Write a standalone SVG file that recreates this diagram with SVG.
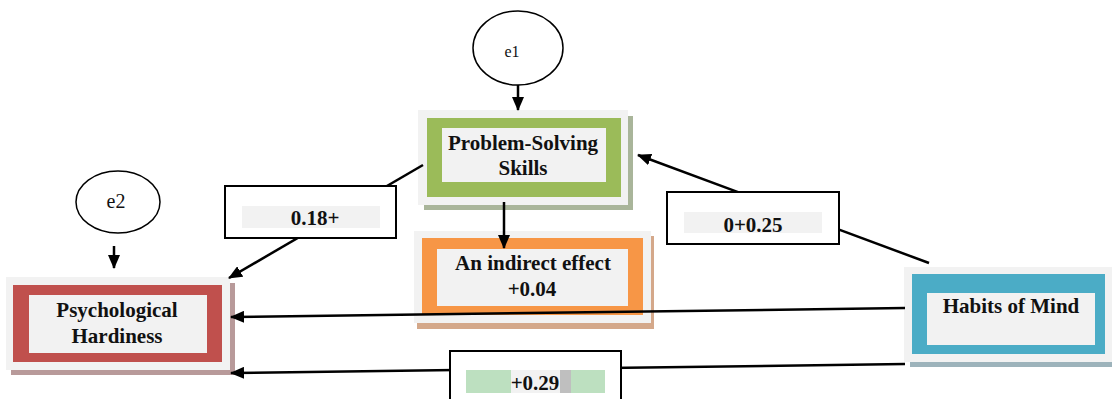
<svg xmlns="http://www.w3.org/2000/svg" width="1112" height="399" viewBox="0 0 1112 399">
<defs>
<style>
.t{font-family:"Liberation Serif","Times New Roman",serif;font-weight:bold;font-size:21px;fill:#111;text-anchor:middle}
.e{font-family:"Liberation Serif","Times New Roman",serif;fill:#111;text-anchor:middle}
.ln{stroke:#000;stroke-width:2.5;fill:none}
.lbl{fill:#fff;stroke:#000;stroke-width:2}
.inner{fill:#f2f2f2}
.outer{fill:#f2f2f2}
</style>
<marker id="ah" markerWidth="14" markerHeight="12" refX="13" refY="6" orient="auto" markerUnits="userSpaceOnUse">
<path d="M0,0 L14,6 L0,12 Z" fill="#000"/>
</marker>
</defs>
<rect width="1112" height="399" fill="#fff"/>

<g id="e1">
<ellipse cx="518" cy="48" rx="45" ry="37" fill="#fff" stroke="#000" stroke-width="1.5"/>
<text class="e" x="512" y="57" font-size="16">e1</text>
</g>
<g id="e2">
<ellipse cx="118" cy="202" rx="42" ry="31" fill="#fff" stroke="#000" stroke-width="1.5"/>
<text class="e" x="116" y="208" font-size="20">e2</text>
</g>

<g id="psych">
<rect x="11" y="283" width="224" height="92" fill="#b89a9a"/>
<rect x="6" y="277" width="224" height="93" class="outer"/>
<rect x="13" y="285" width="209" height="77" fill="#c0504d"/>
<rect x="29" y="295" width="178" height="58" class="inner"/>
<text class="t" x="117" y="317">Psychological</text>
<text class="t" x="117" y="343">Hardiness</text>
</g>

<g id="problem">
<rect x="424" y="116" width="209" height="94" fill="#a9b59a"/>
<rect x="418" y="110" width="210" height="95" class="outer"/>
<rect x="427" y="118" width="194" height="79" fill="#9bbb59"/>
<rect x="442" y="128" width="164" height="54" class="inner"/>
<text class="t" x="523" y="150">Problem-Solving</text>
<text class="t" x="523" y="175">Skills</text>
</g>

<g id="indirect">
<rect x="417" y="236" width="237" height="93" fill="#d4a88a"/>
<rect x="414" y="231" width="237" height="92" class="outer"/>
<rect x="422" y="238" width="221" height="77" fill="#f79646"/>
<rect x="437" y="249" width="191" height="57" class="inner"/>
<text class="t" x="533" y="270" font-size="17.5">An indirect effect</text>
<text class="t" x="532" y="296">+0.04</text>
</g>

<g id="habits">
<rect x="910" y="273" width="210" height="94" fill="#9db3bb"/>
<rect x="904" y="267" width="210" height="95" class="outer"/>
<rect x="912" y="274" width="193" height="80" fill="#4bacc6"/>
<rect x="927" y="293" width="168" height="52" class="inner"/>
<text class="t" x="1011" y="313">Habits of Mind</text>
</g>

<g id="connectors">
<line class="ln" x1="518" y1="85" x2="518" y2="110" marker-end="url(#ah)"/>
<line class="ln" x1="114" y1="246" x2="114" y2="268" marker-end="url(#ah)"/>
<line class="ln" x1="423" y1="165" x2="229" y2="278" marker-end="url(#ah)"/>
<line class="ln" x1="504" y1="202" x2="504" y2="248" marker-end="url(#ah)"/>
<line class="ln" x1="929" y1="263" x2="638" y2="155" marker-end="url(#ah)"/>
<line class="ln" x1="905" y1="308" x2="231" y2="317" marker-end="url(#ah)"/>
<line class="ln" x1="905" y1="364" x2="231" y2="373" marker-end="url(#ah)"/>
</g>

<g id="label-018">
<rect class="lbl" x="225" y="186" width="171" height="52"/>
<rect x="242" y="206" width="138" height="22" fill="#f2f2f2"/>
<text class="t" x="315" y="225">0.18+</text>
</g>
<g id="label-025">
<rect class="lbl" x="667" y="192" width="172" height="52"/>
<rect x="684" y="212" width="138" height="21" fill="#f2f2f2"/>
<text class="t" x="753" y="232">0+0.25</text>
</g>
<g id="label-029">
<rect class="lbl" x="450" y="351" width="171" height="60"/>
<rect x="466" y="370" width="139" height="23" fill="#bde0c0"/>
<rect x="511" y="370" width="49" height="23" fill="#f2f2f2"/>
<rect x="560" y="370" width="11" height="23" fill="#bfbfbf"/>
<text class="t" x="535" y="390">+0.29</text>
</g>
</svg>
